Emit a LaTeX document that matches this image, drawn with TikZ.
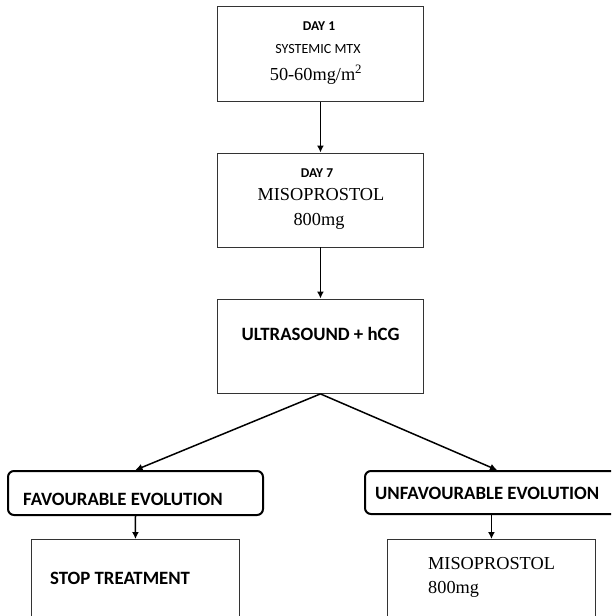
\documentclass[tikz,border=0pt]{standalone}
\usepackage{fontspec}
\usepackage{tikz}
\usetikzlibrary{arrows.meta,calc,positioning}
\newfontfamily\calibrifont{Carlito}
\newfontfamily\timesfont{Liberation Serif}
\tikzset{
	% boxes ----------------------------------------------------
	stepbox/.style={draw=black!80,line width=0.9pt,anchor=north west,inner sep=0pt},
	evobox/.style={draw,line width=2pt,rounded corners=6pt,anchor=north west,inner sep=0pt},
	% texts ----------------------------------------------------
	daytext/.style={anchor=base,inner sep=0pt,font=\calibrifont\bfseries\fontsize{13.5}{15}\selectfont},
	sanstext/.style={anchor=base,inner sep=0pt,font=\calibrifont\fontsize{14}{16}\selectfont},
	boldtext/.style={inner sep=0pt,font=\calibrifont\bfseries\fontsize{18.8}{21}\selectfont},
	seriftext/.style={inner sep=0pt,font=\timesfont\fontsize{18.3}{21}\selectfont},
	% connectors -----------------------------------------------
	flow/.style={-{Latex[length=7pt,width=7pt]},line width=1.5pt},
}
\begin{document}
\begin{tikzpicture}[x=1pt,y=-1pt]
	\clip (0,0) rectangle (611,616);
	\node[stepbox,minimum width=206pt,minimum height=95pt] (day1) at (217,6){};
	\node[stepbox,minimum width=206pt,minimum height=94pt] (day7) at (217,152.5){};
	\node[stepbox,minimum width=206pt,minimum height=94.5pt] (check) at (217,298.5){};
	\node[evobox,minimum width=255pt,minimum height=44pt] (fav) at (7,470){};
	\node[evobox,minimum width=264pt,minimum height=43pt] (unfav) at (364,470){};
	\node[stepbox,minimum width=208pt,minimum height=100pt] (stop) at (31,539){};
	\node[stepbox,minimum width=208pt,minimum height=100pt] (miso) at (387,539){};
	% texts
	\node[daytext] (d1title) at (319,30){DAY 1};
	\node[sanstext] (d1drug) at (318,53){SYSTEMIC MTX};
	\node[seriftext,anchor=base] (d1dose) at (316,80){50-60mg/m\textsuperscript{2}};
	\node[daytext] (d7title) at (317,177){DAY 7};
	\node[seriftext,anchor=base] (d7drug) at (321,200){MISOPROSTOL};
	\node[seriftext,anchor=base] (d7dose) at (319,225){800mg};
	\node[boldtext,anchor=base] (checktext) at (320.5,340){ULTRASOUND + hCG};
	\node[boldtext,anchor=base west] (favtext) at (23,505){FAVOURABLE EVOLUTION};
	\node[boldtext,anchor=base west] (unfavtext) at (375,499){UNFAVOURABLE EVOLUTION};
	\node[boldtext,anchor=base west] (stoptext) at (50,584){STOP TREATMENT};
	\node[seriftext,anchor=base west] (misodrug) at (428,569){MISOPROSTOL};
	\node[seriftext,anchor=base west] (misodose) at (428,593){800mg};
	% connectors
	\draw[flow] (day1.south) -- (day7.north);
	\draw[flow] (day7.south) -- (check.north);
	\draw[flow] (check.south) -- (fav.north);
	\draw[flow] (check.south) -- (unfav.north);
	\draw[flow] (fav.south) -- (stop.north);
	\draw[flow] (unfav.south -| miso.north) -- (miso.north);
\end{tikzpicture}
\end{document}
